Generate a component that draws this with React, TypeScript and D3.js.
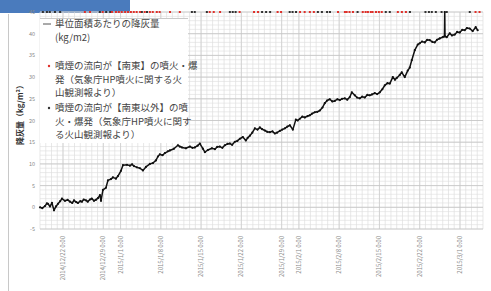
import React from 'react';
import * as d3 from 'd3';

// days since 2014/12/18 0:00 and ash fall (kg/m2)
const dayOffsets = [
  0, 0.4, 0.87, 1.2, 1.39, 1.74, 2.08, 2.43, 2.78, 3.13, 3.5, 3.82, 4.34, 4.8, 5.21, 5.6, 5.91, 6.3,
  6.6, 7.0, 7.3, 7.6, 7.99, 8.3, 8.69, 9.0, 9.38, 9.7, 10.07, 10.42, 10.6, 10.94, 11.46, 11.81, 12.33,
  12.68, 13.2, 13.55, 14.07, 14.42, 15.11, 15.63, 16.0, 16.33, 16.85, 17.37, 17.89, 18.41, 19.11,
  19.63, 20.15, 20.5, 20.84, 21.3, 21.71, 22.23, 22.58, 23.28, 23.97, 24.3, 24.67, 25.36, 26.06,
  26.5, 26.92, 27.4, 27.79, 28.31, 28.66, 29.18, 29.88, 30.4, 30.8, 31.27, 31.7, 32.13, 32.6, 33.0,
  33.4, 33.87, 34.3, 34.74, 35.26, 35.78, 36.1, 36.48, 36.9, 37.35, 37.8, 38.21, 38.6, 39.08, 39.5,
  39.95, 40.4, 40.82, 41.2, 41.69, 42.1, 42.56, 43.0, 43.43, 43.95, 44.47, 44.8, 45.16, 45.6, 46.03,
  46.5, 46.9, 47.3, 47.77, 48.2, 48.64, 49.1, 49.5, 49.9, 50.37, 50.8, 51.24, 51.7, 52.11, 52.5,
  52.98, 53.4, 53.85, 54.2, 54.72, 55.1, 55.58, 56.0, 56.45, 56.9, 57.32, 57.7, 58.19, 58.6, 59.06,
  59.5, 59.93, 60.4, 60.8, 61.32, 61.7, 62.01, 62.53, 62.88, 63.4, 63.92, 64.27, 64.62, 65.14, 65.66,
  66.01, 66.4, 66.88, 67.3, 67.74, 68.2, 68.61, 69.0, 69.48, 70.0, 70.3, 70.35, 70.4, 70.69, 71.22,
  71.6, 72.09, 72.5, 72.96, 73.4, 73.82, 74.2, 74.69, 75.21, 75.73, 76.08,
];
const ashKgM2 = [
  0, -0.2, 0.3, 0.9, 0.8, 0.2, 1.0, -0.7, 0.2, 0.8, 1.4, 2.0, 1.5, 1.7, 1.3, 1.0, 1.6, 1.2,
  1.0, 1.4, 1.3, 1.8, 1.6, 1.3, 1.8, 2.0, 1.5, 1.7, 2.1, 2.8, 1.5, 4.0, 4.5, 6.2, 6.5,
  6.9, 6.6, 7.2, 8.4, 9.7, 9.8, 9.6, 9.9, 9.5, 9.2, 9.0, 8.5, 9.3, 10.0,
  10.2, 10.8, 11.7, 12.2, 12.0, 12.5, 12.9, 13.1, 13.5, 14.3, 14.0, 13.8, 13.6, 14.0,
  13.7, 13.8, 14.2, 14.7, 13.5, 12.7, 13.2, 13.6, 13.4, 13.9, 14.0, 13.7, 14.3, 14.6, 14.7,
  14.4, 15.1, 15.3, 15.8, 16.2, 15.4, 16.0, 16.5, 17.2, 18.2, 17.9, 18.4, 18.0, 17.7, 17.4,
  17.3, 17.5, 17.0, 17.2, 17.6, 17.9, 18.2, 18.6, 18.9, 17.9, 20.2, 20.0, 20.4, 20.9, 20.7,
  21.0, 21.2, 21.6, 21.9, 22.0, 22.3, 23.0, 24.0, 24.6, 24.9, 24.4, 24.5, 24.9, 24.7, 25.0,
  25.1, 24.8, 25.4, 26.5, 25.8, 25.3, 25.1, 25.5, 25.3, 25.9, 25.8, 26.0, 26.3, 26.1, 26.5,
  27.2, 28.1, 28.6, 28.5, 30.0, 29.4, 29.8, 30.5, 31.1, 30.0, 31.5, 32.2, 33.9, 36.2, 37.5,
  37.8, 38.2, 38.0, 38.6, 38.5, 38.1, 38.0, 38.6, 38.9, 39.2, 39.4, 45.0, 39.4, 39.2, 40.1,
  39.6, 39.8, 40.4, 40.3, 40.9, 40.8, 41.3, 41.2, 40.6, 41.5, 40.8,
];

// eruption dates (days since 2014/12/18), plume to the south-east (red) / other (black)
const redEruptionDays = [
  7.8, 8.7, 10.9, 12.5, 13.2, 13.7, 14.2, 14.8, 15.3, 15.8, 16.3, 16.8, 17.4, 18.2, 19.1, 19.6, 20.3,
  20.8, 22.6, 24.3, 29.5, 30.2, 31.3, 34.7, 37.2, 37.9, 41.3, 41.9, 45.2, 46.0, 46.9, 47.6, 51.8,
  53.0, 53.3, 53.8, 54.4, 56.1, 56.6, 57.0, 57.5, 57.8, 58.4, 58.9, 59.4, 62.2, 62.9, 63.6, 75.7, 76.4,
];
const blackEruptionDays = [
  0.5, 1.2, 1.7, 2.6, 3.5, 10.4, 11.5, 12.2, 17.7, 18.6, 26.4, 26.9, 29.0, 33.0, 33.5, 34.0, 38.6,
  39.3, 40.0, 43.4, 43.9, 44.5, 48.3, 49.0, 49.9, 50.4, 55.2, 60.1, 60.8, 64.3, 67.0, 67.6, 68.1,
  68.8, 69.8, 70.7, 74.7,
];
const eruptionLevel = 45;

const yTicks = [-5, 0, 5, 10, 15, 20, 25, 30, 35, 40, 45];
const legendLines1 = ['噴煙の流向が【南東】の噴火・爆', '発（気象庁HP噴火に関する火', '山観測報より）'];
const legendLines2 = ['噴煙の流向が【南東以外】の噴', '火・爆発（気象庁HP噴火に関す', 'る火山観測報より）'];

const start = new Date(2014, 11, 18);
const end = new Date(2015, 2, 5);
const toDate = (d: number) => new Date(start.getTime() + d * 86400000);

export default function App() {
  const x = d3.scaleTime().domain([start, end]).range([40, 483]);
  const y = d3.scaleLinear().domain([-5, 45]).range([229, 12]);

  const dayTicks = d3.timeDay.range(start, d3.timeDay.offset(end, 1));
  const weekTicks = d3.timeDay.every(7)!.range(start, d3.timeDay.offset(end, 1));
  const minorY = d3.range(-5, 46, 1);

  const series = dayOffsets.map((d, i) => [toDate(d), ashKgM2[i]] as [Date, number]);
  const line = d3
    .line<[Date, number]>()
    .x((d) => x(d[0]))
    .y((d) => y(d[1]));

  const fmt = (d: Date) => `${d.getFullYear()}/${d.getMonth() + 1}/${d.getDate()} 0:00`;

  return (
    <svg
      width={491}
      height={291}
      style={{ position: 'absolute', left: 0, top: 0, background: '#fff' }}
      fontFamily="'Noto Sans CJK JP', 'Noto Sans', sans-serif"
    >
      {/* slide decoration */}
      <rect x={0} y={0} width={130} height={13} fill="#4a7bbd" />
      <line x1={8.5} x2={8.5} y1={14} y2={291} stroke="#c8c8c8" />

      {/* grid */}
      {minorY.map((v) => (
        <line key={'my' + v} x1={40} x2={483} y1={y(v)} y2={y(v)} stroke="#e2e2e2" strokeWidth={0.7} />
      ))}
      {dayTicks.map((d, i) => (
        <line key={'dx' + i} x1={x(d)} x2={x(d)} y1={y(45)} y2={y(-5)} stroke="#dedede" strokeWidth={0.7} />
      ))}
      {weekTicks.map((d, i) => (
        <line key={'wx' + i} x1={x(d)} x2={x(d)} y1={y(45)} y2={y(-5)} stroke="#cfcfcf" strokeWidth={0.8} />
      ))}
      {yTicks.map((v) => (
        <line key={'y' + v} x1={40} x2={483} y1={y(v)} y2={y(v)} stroke="#c4c4c4" strokeWidth={0.8} />
      ))}

      {/* y tick labels */}
      {yTicks.map((v) => (
        <text key={'yt' + v} x={35} y={y(v) + 2} fontSize={5.5} fill="#888" textAnchor="end">
          {v}
        </text>
      ))}

      {/* x tick labels */}
      {weekTicks.map((d, i) => (
        <text
          key={'xt' + i}
          transform={`translate(${x(d) + 2},236) rotate(-90)`}
          fontSize={6}
          fill="#888"
          textAnchor="end"
        >
          {fmt(d)}
        </text>
      ))}

      {/* legend box */}
      <rect x={40} y={18} width={148} height={125} fill="#fff" />
      <line x1={40} x2={188} y1={18.5} y2={18.5} stroke="#bbb" strokeWidth={0.8} />

      {/* eruption markers */}
      {blackEruptionDays.map((d, i) => (
        <rect key={'b' + i} x={x(toDate(d)) - 1} y={y(eruptionLevel) - 1} width={2} height={2} fill="#333" />
      ))}
      {redEruptionDays.map((d, i) => (
        <rect key={'r' + i} x={x(toDate(d)) - 1} y={y(eruptionLevel) - 1} width={2} height={2} fill="#e0302a" />
      ))}

      {/* ash line */}
      <path d={line(series) ?? ''} fill="none" stroke="#111" strokeWidth={1.5} strokeLinejoin="round" />
      {series.map((d, i) => (
        <circle key={'p' + i} cx={x(d[0])} cy={y(d[1])} r={1.1} fill="#111" />
      ))}

      {/* legend content */}
      <g fontSize={9.5} fill="#444">
        <line x1={43} x2={51} y1={24} y2={24} stroke="#555" strokeWidth={1} />
        <text x={55} y={27}>単位面積あたりの降灰量</text>
        <text x={55} y={41}>(kg/m2)</text>
        <circle cx={49} cy={66} r={1.2} fill="#e0302a" />
        {legendLines1.map((t, i) => (
          <text key={'l1' + i} x={55} y={69 + i * 13.5}>
            {t}
          </text>
        ))}
        <circle cx={49} cy={108} r={1.2} fill="#333" />
        {legendLines2.map((t, i) => (
          <text key={'l2' + i} x={55} y={111 + i * 13.5}>
            {t}
          </text>
        ))}
      </g>

      {/* y axis title */}
      <text
        transform="translate(23,113) rotate(-90)"
        fontSize={8}
        fontWeight="bold"
        fill="#333"
        textAnchor="middle"
      >
        降灰量（kg/m²）
      </text>
    </svg>
  );
}
